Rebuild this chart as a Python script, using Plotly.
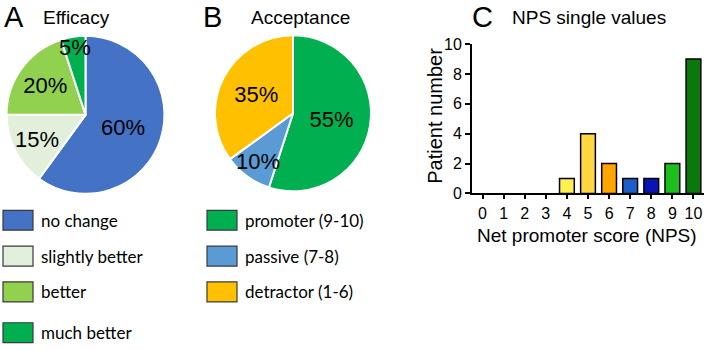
import plotly.graph_objects as go

# ---- data ----
efficacy_labels = ["no change", "slightly better", "better", "much better"]
efficacy_values = [60, 15, 20, 5]
efficacy_colors = ["#4472C4", "#E2EFDA", "#92D050", "#00B050"]

accept_labels = ["promoter (9-10)", "passive (7-8)", "detractor (1-6)"]
accept_values = [55, 10, 35]
accept_colors = ["#00B050", "#5B9BD5", "#FFC000"]

nps_scores = [0, 1, 2, 3, 4, 5, 6, 7, 8, 9, 10]
nps_counts = [0, 0, 0, 0, 1, 4, 2, 1, 1, 2, 9]
nps_colors = ["#FFFFFF", "#FFFFFF", "#FFFFFF", "#FFFFFF", "#FFEF50", "#FFD740",
              "#FFA500", "#1E5EC8", "#0A14B4", "#1EBE1E", "#0A780A"]

W, H = 708, 350
S = 366 / 350  # the photographed page is slightly taller than the figure


def px(x):
    return x / W


def pg(y):  # page pixel -> paper
    return 1 - y / H


def py(y):  # photographed pixel -> paper
    return 1 - (y * S - 8) / H


def pie_domain(cx, cy, d):
    cyp = cy * S - 8
    return dict(x=[px(cx - d / 2), px(cx + d / 2)], y=[pg(cyp + d / 2), pg(cyp - d / 2)])


fig = go.Figure()

fig.add_trace(go.Pie(
    labels=efficacy_labels, values=efficacy_values, sort=False,
    direction="clockwise", rotation=0,
    marker=dict(colors=efficacy_colors, line=dict(color="white", width=2)),
    textinfo="percent", textposition="inside", insidetextorientation="horizontal",
    textfont=dict(family="Liberation Sans", size=22, color="black"),
    domain=pie_domain(85.5, 115, 166),
    showlegend=False, hoverinfo="label+percent",
))
fig.add_trace(go.Pie(
    labels=accept_labels, values=accept_values, sort=False,
    direction="clockwise", rotation=0,
    marker=dict(colors=accept_colors, line=dict(color="white", width=2)),
    textinfo="percent", textposition="inside", insidetextorientation="horizontal",
    textfont=dict(family="Liberation Sans", size=22, color="black"),
    domain=pie_domain(293, 113.5, 164),
    showlegend=False, hoverinfo="label+percent",
))

fig.add_trace(go.Bar(
    x=nps_scores, y=nps_counts, width=0.7,
    marker=dict(color=nps_colors,
                line=dict(color="black", width=[1.5 if c > 0 else 0 for c in nps_counts])),
    showlegend=False, xaxis="x", yaxis="y",
))

fig.update_layout(
    width=W, height=H, margin=dict(l=0, r=0, t=0, b=0),
    paper_bgcolor="white", plot_bgcolor="white",
    uniformtext=dict(minsize=22, mode="show"),
    font=dict(family="Liberation Sans", color="black"),
    xaxis=dict(domain=[px(472), px(704)], range=[-0.5, 10.5], tickmode="array",
               tickvals=nps_scores, ticktext=[str(s) for s in nps_scores],
               showline=True, linecolor="black", linewidth=2,
               ticks="outside", ticklen=4, tickwidth=1.5, tickcolor="black",
               showgrid=False, zeroline=False, anchor="y",
               tickfont=dict(size=16)),
    yaxis=dict(domain=[py(194), py(44)], range=[0, 10], tickvals=[0, 2, 4, 6, 8, 10],
               showline=True, linecolor="black", linewidth=2, ticks="outside",
               ticklen=5, tickwidth=2, tickcolor="black",
               showgrid=False, zeroline=False, anchor="x",
               tickfont=dict(size=16)),
)

# axis titles
fig.add_annotation(text="Net promoter score (NPS)", x=px(587), y=py(236), xref="paper", yref="paper",
                   showarrow=False, xanchor="center", yanchor="middle",
                   font=dict(size=19, family="Liberation Sans", color="black"))
fig.add_annotation(text="Patient number", x=px(435), y=py(116), xref="paper", yref="paper",
                   showarrow=False, xanchor="center", yanchor="middle", textangle=-90,
                   font=dict(size=20, family="Liberation Sans", color="black"))

# panel titles
titles = [("A", 14, 29), ("Efficacy", 76, 19), ("B", 213, 29), ("Acceptance", 300, 19),
          ("C", 483, 29), ("NPS single values", 589, 19)]
for txt, xc, sz in titles:
    fig.add_annotation(text=txt, x=px(xc), y=py(17), xref="paper", yref="paper",
                       showarrow=False, xanchor="center", yanchor="middle",
                       font=dict(size=sz, family="Liberation Sans", color="black"))

# custom legends
legend_rows = [221, 257, 293, 334]


def add_legend(labels, colors, x0):
    for i, (lab, col) in enumerate(zip(labels, colors)):
        yc = legend_rows[i]
        fig.add_shape(type="rect", xref="paper", yref="paper",
                      x0=px(x0), x1=px(x0 + 30), y0=py(yc + 10), y1=py(yc - 10),
                      fillcolor=col, line=dict(color="#3a3a3a", width=1.2))
        fig.add_annotation(text=lab, x=px(x0 + 36), y=py(yc), xref="paper", yref="paper",
                           showarrow=False, xanchor="left", yanchor="middle",
                           font=dict(size=17, family="Lato", color="black"))


add_legend(efficacy_labels, efficacy_colors, 3)
add_legend(accept_labels, accept_colors, 207)

css_fix = (
    "var d=document.documentElement,b=document.body;"
    "d.style.margin='0';d.style.padding='0';d.style.overflow='hidden';"
    "b.style.margin='0';b.style.padding='0';b.style.overflow='hidden';"
)
fig.write_html("out.html", config={"displayModeBar": False}, post_script=css_fix)
